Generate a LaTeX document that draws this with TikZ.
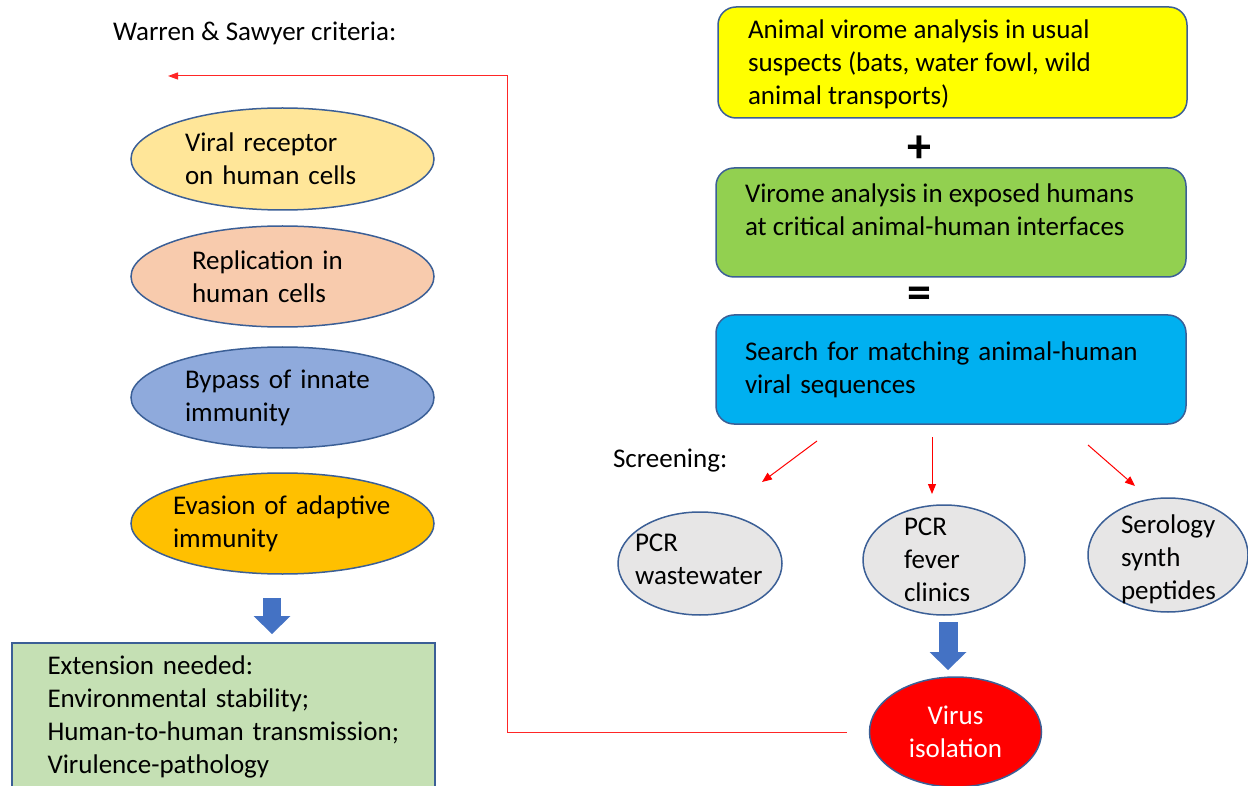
\documentclass[tikz,border=0pt]{standalone}
\usepackage{fontspec}
\setmainfont{Carlito}
\usetikzlibrary{arrows.meta,shapes.geometric}
\definecolor{bord}{HTML}{3B5F96}
\definecolor{cyel}{HTML}{FFFF00}
\definecolor{cgrn}{HTML}{92D050}
\definecolor{cblu}{HTML}{00B0F0}
\definecolor{eone}{HTML}{FFE699}
\definecolor{etwo}{HTML}{F8CBAD}
\definecolor{ethree}{HTML}{8FAADC}
\definecolor{efour}{HTML}{FFC000}
\definecolor{cgray}{HTML}{E7E6E6}
\definecolor{cext}{HTML}{C5E0B4}
\definecolor{barrow}{HTML}{4472C4}
\begin{document}
\begin{tikzpicture}[x=1pt,y=-1pt,
  font=\fontsize{27}{33}\selectfont,
  every node/.style={inner sep=0pt, outer sep=0pt},
  shp/.style={draw=bord, line width=1.5pt, inner sep=-20pt},
  rbox/.style={shp, rectangle, rounded corners=18pt},
  sbox/.style={shp, rectangle},
  oval/.style={shp, ellipse},
  redarr/.style={draw=red, line width=1pt, -{Triangle[length=10pt,width=8pt]}},
  redline/.style={draw=red!85, line width=1pt, -{Triangle[length=10pt,width=7pt]}},
  blockarr/.style={draw=barrow, line width=19pt, -{Triangle[length=18pt,width=37pt,line width=0pt]}},
]
\useasboundingbox (0,0) rectangle (1248,786);
\fill[white] (0,0) rectangle (1248,786);
\clip (0,0) rectangle (1248,786);

% left column
\node[anchor=west] (title) at (113,33) {Warren \& Sawyer criteria:};

\node[oval, fill=eone, minimum width=303pt, minimum height=102pt, text width=195pt, align=left] (e1) at (282.5,159) {Viral receptor\\on human cells};
\node[oval, fill=etwo, minimum width=303pt, minimum height=101pt, text width=181pt, align=left] (e2) at (282.5,276.5) {Replication in\\human cells};
\node[oval, fill=ethree, minimum width=303pt, minimum height=101pt, text width=195pt, align=left] (e3) at (282.5,397.5) {Bypass of innate\\immunity};
\node[oval, fill=efour, minimum width=303pt, minimum height=101pt, text width=219pt, align=left] (e4) at (282.5,523.5) {Evasion of adaptive\\immunity};

\node[sbox, fill=cext, minimum width=423pt, minimum height=148pt, text width=352pt, align=left] (ext) at (223.5,717) {Extension needed:\\Environmental stability;\\Human-to-human transmission;\\Virulence-pathology};

\coordinate (la) at ([xshift=-10.5pt]e4.south);
\draw[blockarr, line width=18pt, shorten <=24pt, shorten >=9pt] (la) -- (la |- ext.north);

% right column
\node[rbox, fill=cyel, minimum width=469pt, minimum height=111pt] (animal) at (952.5,62.5) {\raisebox{-2pt}[\height][\depth]{\parbox{409pt}{\raggedright Animal virome analysis in usual\\suspects (bats, water fowl, wild\\animal transports)}}};
\node[font=\fontsize{48}{48}\selectfont\bfseries] (plus) at (919,149) {+};
\node[rbox, fill=cgrn, minimum width=470pt, minimum height=109pt] (human) at (951,222.5) {\parbox[c][77pt][t]{412pt}{\raggedright Virome analysis in exposed humans\\at critical animal-human interfaces}};
\node[font=\fontsize{48}{48}\selectfont\bfseries] (equal) at (919,297.5) {=};
\node[rbox, fill=cblu, minimum width=470pt, minimum height=109pt, text width=412pt, align=left] (search) at (951,369.5) {Search for matching animal-human\\viral sequences};

\node[anchor=west] (scr) at (613,461) {Screening:};

\node[oval, fill=cgray, minimum width=164pt, minimum height=103pt] (waste) at (700,563.5) {\raisebox{4.5pt}[\height][\depth]{\parbox{130pt}{\raggedright PCR\\wastewater}}};
\node[oval, fill=cgray, minimum width=162pt, minimum height=110pt, text width=80pt, align=left] (fever) at (944,560) {PCR\\fever\\clinics};
\node[oval, fill=cgray, minimum width=160pt, minimum height=114pt] (sero) at (1168,555) {\raisebox{-4pt}[\height][\depth]{\parbox{94pt}{\raggedright Serology\\synth\\peptides}}};

\node[oval, fill=red, minimum width=172pt, minimum height=110pt, text=white, align=center] (iso) at (955.5,732) {Virus\\isolation};

\coordinate (a1s) at (817,441); \coordinate (a1e) at (762,482);
\coordinate (a2s) at (932,437); \coordinate (a2e) at (932,494);
\coordinate (a3s) at (1088,445); \coordinate (a3e) at (1135,486);
\draw[redarr] (a1s) -- (a1e);
\draw[redarr] (a2s) -- (a2e);
\draw[redarr] (a3s) -- (a3e);

\coordinate (ra) at ([xshift=4pt]fever.south);
\draw[blockarr, shorten <=7pt, shorten >=7pt] (ra) -- (ra |- iso.north);

% feedback connector
\coordinate (bend) at (507,732);
\coordinate (fbk) at (168,76);
\draw[redline, shorten <=23pt] (iso.west) -- (bend) |- (fbk);
\end{tikzpicture}
\end{document}
